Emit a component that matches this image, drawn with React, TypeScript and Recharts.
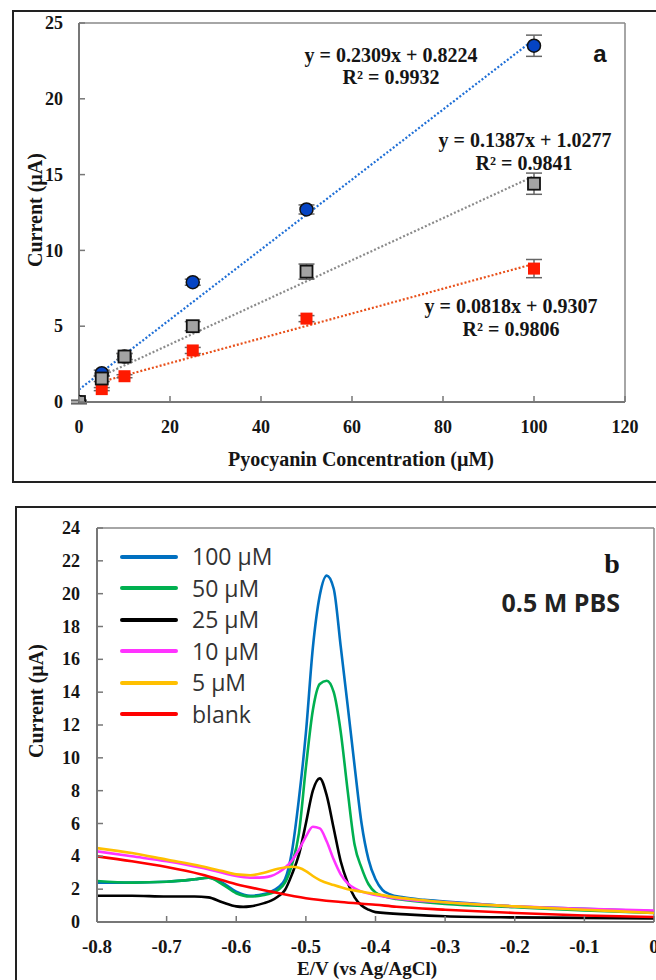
import React from 'react';
import { ComposedChart, LineChart, Line, Scatter, XAxis, YAxis, ErrorBar, ReferenceLine, Legend } from 'recharts';

const SERIF = "'Liberation Serif', 'Times New Roman', serif";
const SANS = "'Open Sans', 'Liberation Sans', sans-serif";
const INK = '#151515';

// ---------- Panel a data ----------
const concX = [0, 5, 10, 25, 50, 100];
const blueY = [0, 1.9, 3.0, 7.9, 12.7, 23.5];
const blueErr = [0.1, 0.2, 0.2, 0.2, 0.3, 0.7];
const grayY = [0, 1.55, 3.0, 5.0, 8.6, 14.4];
const grayErr = [0.1, 0.2, 0.2, 0.3, 0.5, 0.7];
const redY = [0, 0.85, 1.7, 3.4, 5.5, 8.8];
const redErr = [0.1, 0.1, 0.1, 0.2, 0.2, 0.6];
const blueTrendX = [0, 100];
const blueTrendY = [0.82, 23.91];
const grayTrendX = [5, 100];
const grayTrendY = [1.72, 14.9];
const redTrendX = [5, 100];
const redTrendY = [1.34, 9.11];
const aXTicks = [0, 20, 40, 60, 80, 100, 120];
const aYTicks = [0, 5, 10, 15, 20, 25];

// ---------- Panel b data ----------
const curve100: [number, number][] = [
  [-0.8, 2.4], [-0.75, 2.4], [-0.7, 2.45], [-0.66, 2.6], [-0.64, 2.7], [-0.62, 2.4], [-0.6, 1.85],
  [-0.58, 1.6], [-0.56, 1.7], [-0.55, 1.85], [-0.54, 2.1], [-0.53, 2.6], [-0.52, 4.3], [-0.51, 7.5],
  [-0.5, 11.5], [-0.49, 16.7], [-0.48, 19.9], [-0.47, 21.1], [-0.46, 20.3], [-0.45, 16.8],
  [-0.44, 13.2], [-0.43, 9.5], [-0.42, 6.0], [-0.41, 3.8], [-0.4, 2.6], [-0.39, 1.95], [-0.38, 1.7],
  [-0.36, 1.5], [-0.33, 1.35], [-0.3, 1.25], [-0.25, 1.1], [-0.2, 0.95], [-0.1, 0.8], [0, 0.65],
];
const curve50: [number, number][] = [
  [-0.8, 2.5], [-0.75, 2.4], [-0.7, 2.45], [-0.66, 2.6], [-0.64, 2.7], [-0.62, 2.3], [-0.6, 1.75],
  [-0.58, 1.55], [-0.56, 1.65], [-0.55, 1.75], [-0.54, 1.95], [-0.53, 2.4], [-0.52, 3.5], [-0.51, 5.4],
  [-0.5, 9.4], [-0.49, 12.9], [-0.48, 14.5], [-0.47, 14.7], [-0.46, 14.0], [-0.45, 11.6],
  [-0.44, 8.0], [-0.43, 4.7], [-0.42, 3.3], [-0.41, 2.3], [-0.4, 1.8], [-0.39, 1.6], [-0.37, 1.4],
  [-0.35, 1.3], [-0.3, 1.1], [-0.2, 0.9], [-0.1, 0.7], [0, 0.55],
];
const curve25: [number, number][] = [
  [-0.8, 1.6], [-0.75, 1.6], [-0.7, 1.55], [-0.66, 1.55], [-0.64, 1.5], [-0.62, 1.2], [-0.6, 0.95],
  [-0.59, 0.92], [-0.58, 0.95], [-0.56, 1.15], [-0.55, 1.3], [-0.54, 1.55], [-0.53, 1.95], [-0.52, 2.9],
  [-0.51, 4.1], [-0.5, 6.0], [-0.49, 8.0], [-0.48, 8.75], [-0.47, 7.7], [-0.46, 5.7], [-0.45, 3.7],
  [-0.44, 2.4], [-0.43, 1.5], [-0.42, 1.0], [-0.41, 0.75], [-0.4, 0.6], [-0.35, 0.45], [-0.3, 0.35],
  [-0.2, 0.28], [-0.1, 0.25], [0, 0.22],
];
const curve10: [number, number][] = [
  [-0.8, 4.3], [-0.75, 4.0], [-0.7, 3.7], [-0.65, 3.3], [-0.62, 3.0], [-0.6, 2.8], [-0.58, 2.7],
  [-0.56, 2.72], [-0.55, 2.8], [-0.54, 3.0], [-0.53, 3.3], [-0.52, 3.75], [-0.51, 4.4], [-0.5, 5.2],
  [-0.49, 5.8], [-0.48, 5.7], [-0.47, 4.9], [-0.46, 3.8], [-0.45, 2.9], [-0.44, 2.35], [-0.43, 2.05],
  [-0.42, 1.85], [-0.4, 1.65], [-0.35, 1.35], [-0.3, 1.2], [-0.2, 0.95], [-0.1, 0.8], [0, 0.7],
];
const curve5: [number, number][] = [
  [-0.8, 4.5], [-0.75, 4.2], [-0.7, 3.8], [-0.65, 3.4], [-0.62, 3.1], [-0.6, 2.9], [-0.58, 2.85],
  [-0.56, 3.0], [-0.54, 3.25], [-0.52, 3.37], [-0.51, 3.3], [-0.5, 3.1], [-0.49, 2.8], [-0.48, 2.55],
  [-0.46, 2.25], [-0.44, 2.0], [-0.42, 1.85], [-0.4, 1.7], [-0.37, 1.5], [-0.35, 1.4], [-0.3, 1.2],
  [-0.2, 0.95], [-0.1, 0.75], [0, 0.55],
];
const curveBlank: [number, number][] = [
  [-0.8, 4.0], [-0.75, 3.7], [-0.7, 3.35], [-0.65, 2.9], [-0.6, 2.3], [-0.55, 1.85], [-0.5, 1.45],
  [-0.45, 1.22], [-0.4, 1.05], [-0.37, 0.93], [-0.3, 0.75], [-0.2, 0.55], [-0.1, 0.4], [0, 0.3],
];
const bXTicks = [-0.8, -0.7, -0.6, -0.5, -0.4, -0.3, -0.2, -0.1, 0];
const bYTicks = [0, 2, 4, 6, 8, 10, 12, 14, 16, 18, 20, 22, 24];
const bNames = ['100 µM', '50 µM', '25 µM', '10 µM', '5 µM', 'blank'];
const bColors = ['#0070c0', '#00b050', '#000000', '#ff33ff', '#ffc000', '#ff0000'];
const bCurves = [curve100, curve50, curve25, curve10, curve5, curveBlank];

const toScatter = (ys: number[], errs: number[]) => concX.map((x, i) => ({ x, y: ys[i], err: errs[i] }));
const toLine = (xs: number[], ys: number[]) => xs.map((x, i) => ({ x, y: ys[i] }));
const toPts = (arr: [number, number][]) => arr.map(([x, y]) => ({ x, y }));

const makeXTick = (fontSize: number, fmt: (v: number) => string) => (props: any) => {
  const { x, y, payload } = props;
  return (
    <g>
      <line x1={x} x2={x} y1={y} y2={y - 6} stroke="#777" strokeWidth={1.5} />
      <text x={x} y={y + 31} textAnchor="middle" fontFamily={SERIF} fontWeight="bold" fontSize={fontSize} fill={INK}>
        {fmt(payload.value)}
      </text>
    </g>
  );
};
const makeYTick = (fontSize: number, gap: number) => (props: any) => {
  const { x, y, payload } = props;
  return (
    <g>
      <line x1={x} x2={x + 6} y1={y} y2={y} stroke="#777" strokeWidth={1.5} />
      <text x={x - gap} y={y + fontSize * 0.34} textAnchor="end" fontFamily={SERIF} fontWeight="bold" fontSize={fontSize} fill={INK}>
        {payload.value}
      </text>
    </g>
  );
};

const blueDot = (p: any) => <circle cx={p.cx} cy={p.cy} r={6.5} fill="#0544c4" stroke="#111" strokeWidth={1.5} />;
const grayDot = (p: any) => <rect x={p.cx - 6} y={p.cy - 6} width={12} height={12} fill="#a3a3a3" stroke="#111" strokeWidth={1.8} />;
const redDot = (p: any) => <rect x={p.cx - 6} y={p.cy - 6} width={12} height={12} fill="#ff1a00" />;

const renderLegend = (props: any) => {
  const items = [...(props.payload || [])].sort(
    (a: any, b: any) => bNames.indexOf(a.value) - bNames.indexOf(b.value)
  );
  return (
    <div>
      {items.map((e: any) => (
        <div key={e.value} style={{ display: 'flex', alignItems: 'center', height: 31.5 }}>
          <div style={{ width: 58, height: 4, background: e.color, borderRadius: 2 }} />
          <span style={{ marginLeft: 14, fontFamily: SANS, fontSize: 23, color: '#333', lineHeight: 1 }}>{e.value}</span>
        </div>
      ))}
    </div>
  );
};

export default function App() {
  return (
    <div style={{ position: 'absolute', left: 0, top: 0, width: 656, height: 980, overflow: 'hidden', background: '#fff' }}>
      <div style={{ position: 'absolute', left: 0, top: 0 }}>
        <ComposedChart width={656} height={490} margin={{ top: 23, right: 31, bottom: 48, left: 19 }}>
          <XAxis type="number" dataKey="x" domain={[0, 120]} ticks={aXTicks} interval={0} tickSize={0} tickMargin={0}
            tickLine={false} axisLine={{ stroke: '#777', strokeWidth: 2 }} height={40}
            tick={makeXTick(18, (v) => String(v))} allowDataOverflow />
          <YAxis type="number" domain={[0, 25]} ticks={aYTicks} interval={0} tickSize={0} tickMargin={0}
            tickLine={false} axisLine={{ stroke: '#777', strokeWidth: 2 }} width={60}
            tick={makeYTick(18, 16)} allowDataOverflow />
          <ReferenceLine y={25} stroke="#888" strokeWidth={1.5} />
          <ReferenceLine x={120} stroke="#888" strokeWidth={1.5} />
          <Line data={toLine(blueTrendX, blueTrendY)} dataKey="y" type="linear" dot={false} stroke="#1f6fd6" strokeWidth={2.2} strokeDasharray="2 2" isAnimationActive={false} />
          <Line data={toLine(grayTrendX, grayTrendY)} dataKey="y" type="linear" dot={false} stroke="#8a8a8a" strokeWidth={2.2} strokeDasharray="2 2" isAnimationActive={false} />
          <Line data={toLine(redTrendX, redTrendY)} dataKey="y" type="linear" dot={false} stroke="#e8501a" strokeWidth={2.2} strokeDasharray="2 2" isAnimationActive={false} />
          <Scatter data={toScatter(redY, redErr)} dataKey="y" shape={redDot} isAnimationActive={false}>
            <ErrorBar dataKey="err" direction="y" width={8} stroke="#666" strokeWidth={1.5} />
          </Scatter>
          <Scatter data={toScatter(blueY, blueErr)} dataKey="y" shape={blueDot} isAnimationActive={false}>
            <ErrorBar dataKey="err" direction="y" width={8} stroke="#666" strokeWidth={1.5} />
          </Scatter>
          <Scatter data={toScatter(grayY, grayErr)} dataKey="y" shape={grayDot} isAnimationActive={false}>
            <ErrorBar dataKey="err" direction="y" width={8} stroke="#666" strokeWidth={1.5} />
          </Scatter>
        </ComposedChart>
      </div>

      <div style={{ position: 'absolute', left: 0, top: 500 }}>
        <LineChart width={656} height={480} margin={{ top: 28, right: 2, bottom: 18, left: 37 }}>
          <XAxis type="number" dataKey="x" domain={[-0.8, 0]} ticks={bXTicks} interval={0} tickSize={0} tickMargin={0}
            tickLine={false} axisLine={{ stroke: '#777', strokeWidth: 2 }} height={40}
            tick={makeXTick(19, (v) => (v === 0 ? '0' : v.toFixed(1)))} allowDataOverflow />
          <YAxis type="number" domain={[0, 24]} ticks={bYTicks} interval={0} tickSize={0} tickMargin={0}
            tickLine={false} axisLine={{ stroke: '#777', strokeWidth: 2 }} width={60}
            tick={makeYTick(18, 17)} allowDataOverflow />
          <ReferenceLine y={24} stroke="#888" strokeWidth={1.5} />
          <ReferenceLine x={0} stroke="#888" strokeWidth={1.5} />
          {bCurves.map((c, i) => (
            <Line key={bNames[i]} name={bNames[i]} data={toPts(c)} dataKey="y" type="monotone" dot={false}
              stroke={bColors[i]} strokeWidth={2.6} isAnimationActive={false} />
          ))}
          <Legend layout="vertical" align="center" verticalAlign="middle" content={renderLegend}
            wrapperStyle={{ left: 120, top: 41, width: 200, height: 190 }} />
        </LineChart>
      </div>

      <svg width={656} height={980} style={{ position: 'absolute', left: 0, top: 0, pointerEvents: 'none' }}>
        <rect x={13} y={11} width={700} height={471} fill="none" stroke="#222" strokeWidth={2} />
        <rect x={16} y={507} width={700} height={520} fill="none" stroke="#222" strokeWidth={2} />
        <g fontFamily={SERIF} fontWeight="bold" fontSize={20} fill={INK} textAnchor="middle">
          <text x={391} y={62}>y = 0.2309x + 0.8224</text>
          <text x={391} y={84}>R² = 0.9932</text>
          <text x={525} y={147}>y = 0.1387x + 1.0277</text>
          <text x={524} y={170}>R² = 0.9841</text>
          <text x={511} y={313}>y = 0.0818x + 0.9307</text>
          <text x={511} y={336}>R² = 0.9806</text>
        </g>
        <text x={600} y={62} textAnchor="middle" fontFamily="'Liberation Sans', Arial, sans-serif" fontWeight="bold" fontSize={24} fill={INK}>a</text>
        <text x={361} y={466} textAnchor="middle" fontFamily={SERIF} fontWeight="bold" fontSize={20} fill={INK}>Pyocyanin Concentration (µM)</text>
        <text x={42} y={210} textAnchor="middle" fontFamily={SERIF} fontWeight="bold" fontSize={20} fill={INK} transform="rotate(-90 42 210)">Current (µA)</text>
        <text x={612} y={573} textAnchor="middle" fontFamily={SERIF} fontWeight="bold" fontSize={28} fill={INK}>b</text>
        <text x={620} y={612} textAnchor="end" fontFamily={SANS} fontWeight="bold" fontSize={25} fill="#222">0.5 M PBS</text>
        <text x={367} y={975} textAnchor="middle" fontFamily={SERIF} fontWeight="bold" fontSize={19} fill={INK}>E/V (vs Ag/AgCl)</text>
        <text x={43} y={701} textAnchor="middle" fontFamily={SERIF} fontWeight="bold" fontSize={20} fill={INK} transform="rotate(-90 43 701)">Current (µA)</text>
      </svg>
    </div>
  );
}
